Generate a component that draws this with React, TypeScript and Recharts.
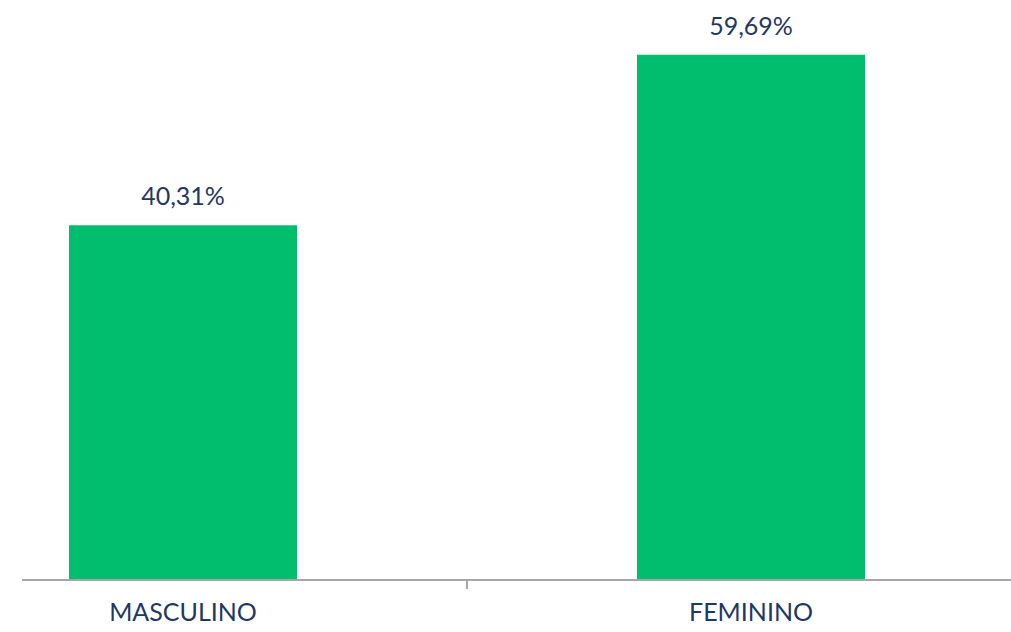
import React from 'react';
import { BarChart, Bar, XAxis, YAxis, LabelList } from 'recharts';

const categories = ['MASCULINO', 'FEMININO'];
const values = [40.31, 59.69];
const valueLabels = ['40,31%', '59,69%'];

const data = categories.map((c, i) => ({ name: c, value: values[i], label: valueLabels[i] }));

const FONT = 'Lato, "Open Sans", sans-serif';
const NAVY = '#1F3864';

const CategoryTick = (props: any) => {
  const { x, y, payload } = props;
  const half = payload && typeof payload.offset === 'number' ? payload.offset : 0;
  const isLast = payload && payload.index === categories.length - 1;
  return (
    <g>
      {!isLast && half > 0 && (
        <line x1={x + half} x2={x + half} y1={y} y2={y + 9} stroke="#A6A6A6" strokeWidth={2} />
      )}
      <text x={x} y={y + 23} dy="0.71em" textAnchor="middle" fill={NAVY} fontSize={25} fontFamily={FONT}>
        {payload.value}
      </text>
    </g>
  );
};

export default function App() {
  return (
    <div style={{ position: 'absolute', left: 0, top: 0, width: 1011, height: 632, overflow: 'hidden', background: '#fff' }}>
      <BarChart width={1011} height={632} data={data} margin={{ top: 8, right: 0, bottom: 0, left: 22 }}>
        <YAxis hide domain={[0, 65]} />
        <XAxis
          dataKey="name"
          height={52}
          padding={{ left: -123, right: -24 }}
          axisLine={{ stroke: '#A6A6A6', strokeWidth: 2 }}
          tickLine={false}
          tickSize={0}
          tickMargin={0}
          tick={CategoryTick}
          interval={0}
        />
        <Bar dataKey="value" fill="#00BE6E" barSize={228} isAnimationActive={false}>
          <LabelList dataKey="label" position="top" offset={20} fill={NAVY} fontSize={25} fontFamily={FONT} />
        </Bar>
      </BarChart>
    </div>
  );
}
